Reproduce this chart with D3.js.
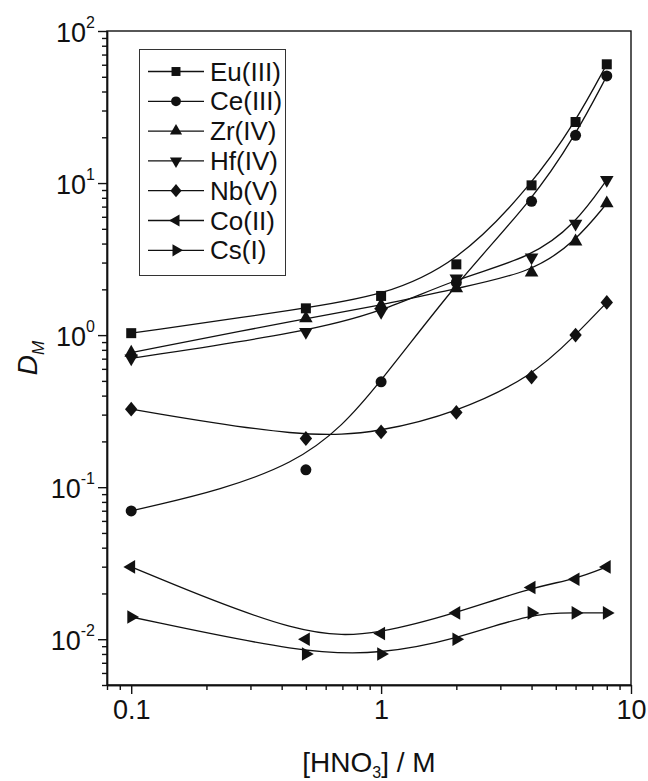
<!DOCTYPE html>
<html>
<head>
<meta charset="utf-8">
<script src="https://cdn.jsdelivr.net/npm/d3@7"></script>
<style>
  body { margin: 0; background: #fff; }
  svg { display: block; font-family: "Liberation Sans", Arial, sans-serif; }
</style>
</head>
<body>
<svg id="canvas" width="648" height="781"></svg>
<script>
// nitric acid concentrations (M) where D was measured
let hno3 = [0.1, 0.5, 1, 2, 4, 6, 8]

// distribution ratios
let seriesNames = ['Eu(III)', 'Ce(III)', 'Zr(IV)', 'Hf(IV)', 'Nb(V)', 'Co(II)', 'Cs(I)']
let euValues = [1.03, 1.50, 1.81, 2.92, 9.66, 25.2, 60.4]
let ceValues = [0.0698, 0.130, 0.493, 2.22, 7.59, 20.6, 50.6]
let zrValues = [0.766, 1.29, 1.57, 2.03, 2.58, 4.13, 7.35]
let hfValues = [0.703, 1.05, 1.42, 2.36, 3.24, 5.40, 10.5]
let nbValues = [0.326, 0.209, 0.231, 0.310, 0.530, 1.00, 1.64]
let coValues = [0.0299, 0.0100, 0.0109, 0.0149, 0.0219, 0.0248, 0.0299]
let csValues = [0.0140, 0.0080, 0.0080, 0.0100, 0.0149, 0.0149, 0.0149]

// tick labels
let xTickValues = [0.1, 1, 10]
let xTickLabels = ['0.1', '1', '10']
let yTickValues = [0.01, 0.1, 1, 10, 100]
let yTickExponents = ['-2', '-1', '0', '1', '2']

let allValues = [euValues, ceValues, zrValues, hfValues, nbValues, coValues, csValues]

let canvas = d3.select('#canvas')

let plotLeft = 107, plotRight = 631, plotTop = 31, plotBottom = 685

let xScale = d3.scaleLog().domain([0.08, 10]).range([plotLeft, plotRight])
let yScale = d3.scaleLog().domain([0.005, 100]).range([plotBottom, plotTop])

// marker shapes: square, circle, up, down, diamond, left, right
let diamond = {
    draw: (context, size) => {
        let w = Math.sqrt(size) * 0.62, h = Math.sqrt(size) * 0.74
        context.moveTo(0, -h)
        context.lineTo(w, 0)
        context.lineTo(0, h)
        context.lineTo(-w, 0)
        context.closePath()
    }
}
let shapes = [
    {type: d3.symbolSquare, size: 100, rot: 0},
    {type: d3.symbolCircle, size: 95, rot: 0},
    {type: d3.symbolTriangle, size: 80, rot: 0},
    {type: d3.symbolTriangle, size: 80, rot: 180},
    {type: diamond, size: 100, rot: 0},
    {type: d3.symbolTriangle, size: 80, rot: -90},
    {type: d3.symbolTriangle, size: 80, rot: 90}
]

// frame
canvas.append('rect')
    .attr('x', plotLeft).attr('y', plotTop)
    .attr('width', plotRight - plotLeft).attr('height', plotBottom - plotTop)
    .attr('fill', 'none').attr('stroke', '#111').attr('stroke-width', 1.4)

// minor ticks
let xMinor = []
let yMinor = []
for (let e = -3; e <= 2; e++) {
    for (let m = 2; m <= 9; m++) {
        let v = m * Math.pow(10, e)
        if (v >= 0.08 && v < 10) xMinor.push(v)
        if (v >= 0.005 && v < 100) yMinor.push(v)
    }
}

canvas.append('g')
    .attr('transform', 'translate(0,' + plotBottom + ')')
    .call(d3.axisBottom(xScale).tickValues(xMinor).tickSize(5).tickSizeOuter(0).tickFormat(''))
let xAxis = canvas.append('g')
    .attr('transform', 'translate(0,' + plotBottom + ')')
    .call(d3.axisBottom(xScale).tickValues(xTickValues).tickSize(9).tickSizeOuter(0)
        .tickFormat((d, i) => xTickLabels[i]))

canvas.append('g')
    .attr('transform', 'translate(' + plotLeft + ',0)')
    .call(d3.axisLeft(yScale).tickValues(yMinor).tickSize(5).tickSizeOuter(0).tickFormat(''))
let yAxis = canvas.append('g')
    .attr('transform', 'translate(' + plotLeft + ',0)')
    .call(d3.axisLeft(yScale).tickValues(yTickValues).tickSize(9).tickSizeOuter(0).tickFormat(''))

canvas.selectAll('.domain').attr('stroke', '#111').attr('stroke-width', 1.4)
canvas.selectAll('.tick line').attr('stroke', '#111').attr('stroke-width', 1.4)

xAxis.selectAll('.tick text')
    .attr('y', 15)
    .attr('dy', '0.72em')
    .attr('font-size', 27)
    .attr('fill', '#111')
    .attr('font-family', '"Liberation Sans", Arial, sans-serif')

// y labels as 10 with a superscript exponent
yAxis.selectAll('.tick').each(function (d, i) {
    let t = d3.select(this).append('text')
        .attr('x', -12)
        .attr('y', 10)
        .attr('text-anchor', 'end')
        .attr('fill', '#111')
        .attr('font-size', 27)
        .attr('font-family', '"Liberation Sans", Arial, sans-serif')
    t.append('tspan').text('10')
    t.append('tspan').attr('dy', -14).attr('font-size', 16).text(yTickExponents[i])
})

// axis titles
let xTitle = canvas.append('text')
    .attr('x', (plotLeft + plotRight) / 2)
    .attr('y', 772)
    .attr('text-anchor', 'middle')
    .attr('font-size', 28)
    .attr('fill', '#111')
xTitle.append('tspan').text('[HNO')
xTitle.append('tspan').attr('dy', 6).attr('font-size', 16).text('3')
xTitle.append('tspan').attr('dy', -6).text('] / M')

let yTitle = canvas.append('text')
    .attr('transform', 'translate(37,' + ((plotTop + plotBottom) / 2) + ') rotate(-90)')
    .attr('text-anchor', 'middle')
    .attr('font-size', 28)
    .attr('font-style', 'italic')
    .attr('fill', '#111')
yTitle.append('tspan').text('D')
yTitle.append('tspan').attr('dy', 7).attr('font-size', 17).text('M')

// smoothed curves and markers
let line = d3.line()
    .x(d => xScale(d[0]))
    .y(d => yScale(d[1]))
    .curve(d3.curveBasis)

allValues.forEach((values, s) => {
    let points = hno3.map((c, i) => [c, values[i]])

    canvas.append('path')
        .datum(points)
        .attr('d', line)
        .attr('fill', 'none')
        .attr('stroke', '#111')
        .attr('stroke-width', 1.3)

    let sym = d3.symbol().type(shapes[s].type).size(shapes[s].size)
    canvas.append('g').selectAll('path')
        .data(points)
        .enter()
        .append('path')
        .attr('d', sym)
        .attr('transform', d => 'translate(' + xScale(d[0]) + ',' + yScale(d[1]) + ') rotate(' + shapes[s].rot + ')')
        .attr('fill', '#111')
})

// legend
let legend = canvas.append('g')
legend.append('rect')
    .attr('x', 139.5).attr('y', 49.5)
    .attr('width', 146).attr('height', 226)
    .attr('fill', '#fff')
    .attr('stroke', '#333')
    .attr('stroke-width', 1)

seriesNames.forEach((name, s) => {
    let yy = 71.5 + s * 29.8
    legend.append('line')
        .attr('x1', 148).attr('x2', 204)
        .attr('y1', yy).attr('y2', yy)
        .attr('stroke', '#111').attr('stroke-width', 1.3)
    legend.append('path')
        .attr('d', d3.symbol().type(shapes[s].type).size(shapes[s].size * 0.8))
        .attr('transform', 'translate(176,' + yy + ') rotate(' + shapes[s].rot + ')')
        .attr('fill', '#111')
    legend.append('text')
        .attr('x', 210)
        .attr('y', yy + 9)
        .attr('font-size', 26)
        .attr('fill', '#111')
        .text(name)
})
</script>
</body>
</html>
